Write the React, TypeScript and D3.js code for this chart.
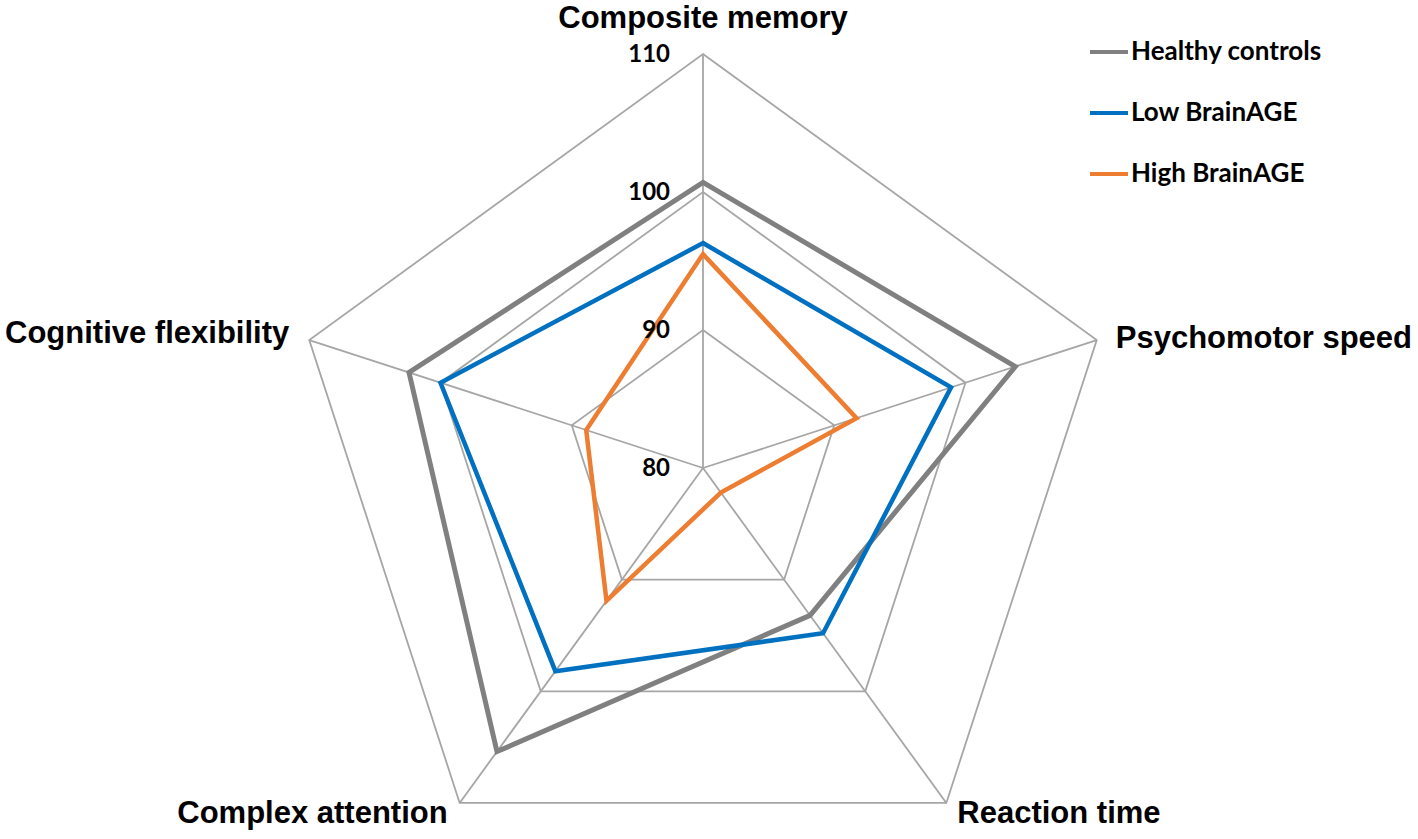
import React from "react";
import * as d3 from "d3";

// axes, clockwise from the top
const categories = [
  "Composite memory",
  "Psychomotor speed",
  "Reaction time",
  "Complex attention",
  "Cognitive flexibility",
];

const healthyControls = [100.7, 103.8, 93.2, 105.4, 102.4];
const lowBrainAge = [96.3, 98.9, 94.8, 98.2, 100.0];
const highBrainAge = [95.5, 91.7, 82.2, 91.9, 88.9];

const tickValues = [80, 90, 100, 110];

const seriesNames = ["Healthy controls", "Low BrainAGE", "High BrainAGE"];
const seriesColors = ["#808080", "#0070C0", "#ED7D31"];

const W = 1418;
const H = 839;
const cx = 703;
const cy = 468;
const R = 414;

const AXIS_FONT = "'Liberation Sans', Arial, sans-serif";
const TICK_FONT = "Lato, 'Open Sans', sans-serif";

export default function App() {
  const r = d3.scaleLinear().domain([80, 110]).range([0, R]);
  const angle = d3
    .scalePoint<number>()
    .domain(d3.range(categories.length))
    .range([0, (2 * Math.PI * (categories.length - 1)) / categories.length]);

  const radial = d3
    .lineRadial<number>()
    .angle((_, i) => angle(i) as number)
    .radius((d) => r(d))
    .curve(d3.curveLinearClosed);

  const series = [healthyControls, lowBrainAge, highBrainAge];

  // position of a point on axis i at value v
  const pt = (i: number, v: number) => {
    const a = (angle(i) as number) - Math.PI / 2;
    return [cx + r(v) * Math.cos(a), cy + r(v) * Math.sin(a)];
  };

  // label offsets per axis (anchor, dx, dy from outer vertex)
  const labelPos: [string, number, number][] = [
    ["middle", 0, -26],
    ["start", 19, 8],
    ["start", 11, 20],
    ["end", -12, 20],
    ["end", -20, 3],
  ];

  return (
    <svg
      width={W}
      height={H}
      style={{ position: "absolute", left: 0, top: 0, background: "#fff" }}
    >
      <g transform={`translate(${cx},${cy})`}>
        {tickValues.slice(1).map((t) => (
          <path
            key={t}
            d={radial(categories.map(() => t)) || ""}
            fill="none"
            stroke="#A6A6A6"
            strokeWidth={1.8}
          />
        ))}
      </g>
      {categories.map((c, i) => {
        const [x, y] = pt(i, 110);
        return (
          <line
            key={c}
            x1={cx}
            y1={cy}
            x2={x}
            y2={y}
            stroke="#A6A6A6"
            strokeWidth={1.8}
          />
        );
      })}

      <g transform={`translate(${cx},${cy})`}>
        {series.map((s, k) => (
          <path
            key={seriesNames[k]}
            d={radial(s) || ""}
            fill="none"
            stroke={seriesColors[k]}
            strokeWidth={k === 0 ? 5 : 4.5}
            strokeLinejoin="miter"
          />
        ))}
      </g>

      {tickValues.map((t) => (
        <text
          key={t}
          x={cx - 33}
          y={cy - r(t) + 8}
          textAnchor="end"
          fontFamily={TICK_FONT}
          fontWeight="bold"
          fontSize={24}
          fill="#000"
        >
          {t}
        </text>
      ))}

      {categories.map((c, i) => {
        const [x, y] = pt(i, 110);
        const [anchor, dx, dy] = labelPos[i];
        return (
          <text
            key={c}
            x={x + dx}
            y={y + dy}
            textAnchor={anchor as any}
            fontFamily={AXIS_FONT}
            fontWeight="bold"
            fontSize={31}
            fill="#000"
          >
            {c}
          </text>
        );
      })}

      {seriesNames.map((n, k) => (
        <g key={n} transform={`translate(1090,${52 + k * 61})`}>
          <line x1={0} x2={38} y1={0} y2={0} stroke={seriesColors[k]} strokeWidth={4} />
          <text
            x={41}
            y={8}
            fontFamily={TICK_FONT}
            fontWeight="bold"
            fontSize={26}
            fill="#000"
          >
            {n}
          </text>
        </g>
      ))}
    </svg>
  );
}
